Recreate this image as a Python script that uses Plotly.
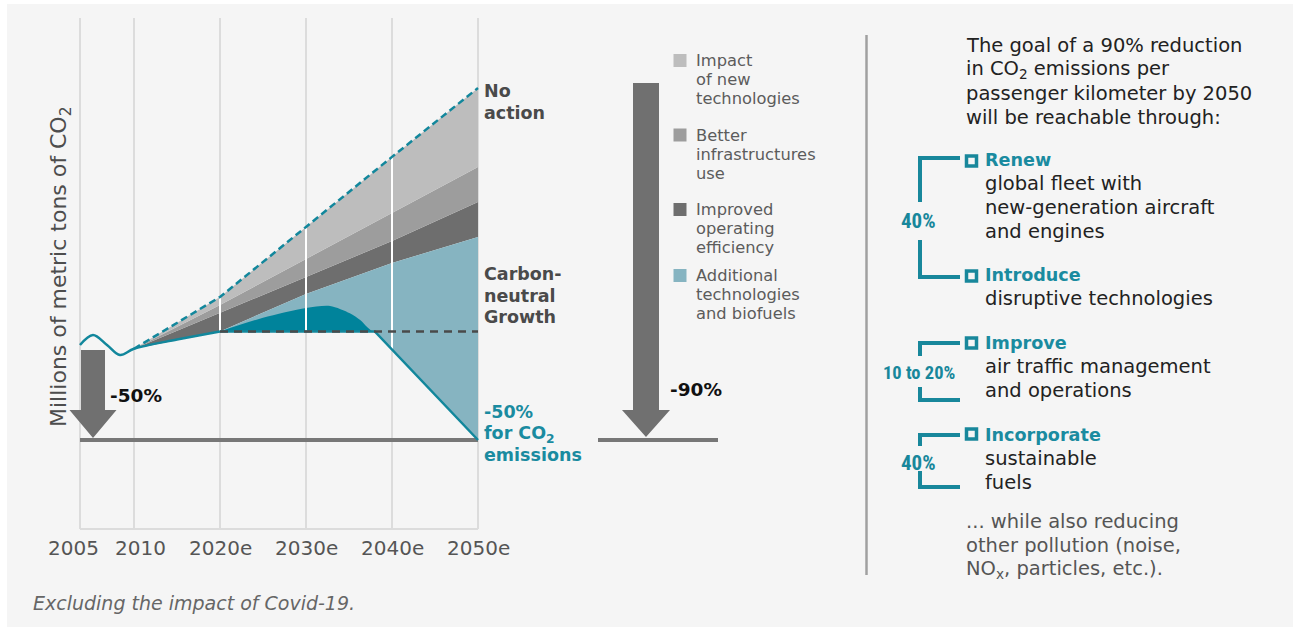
import numpy as np
import plotly.graph_objects as go

W, H = 1293, 627

# ---------------- data (Mt CO2) ----------------
hist_years = [2005, 2006.2, 2007.5, 2008.7, 2010, 2015, 2020]
hist_co2 = [700, 737, 700, 663, 686, 720, 750]

proj_years = [2010, 2020, 2030, 2040, 2050]
no_action = [686, 877, 1135, 1393, 1647]
after_new_tech = [686, 847, 1017, 1186, 1356]
after_infra = [686, 818, 950, 1083, 1227]
after_ops = [686, 750, 888, 1002, 1098]

cng_level = 750
target_2050 = 350
cng_years = [2020, 2038, 2050]
cng_path = [750, 750, 350]

bump_years = [2020, 2025, 2030, 2032.8, 2035.1, 2036.3, 2037.1, 2037.7]
bump_co2 = [750, 800, 836, 844, 817, 792, 766, 750]

tick_years = [2005, 2010, 2020, 2030, 2040, 2050]
tick_labels = ["2005", "2010", "2020e", "2030e", "2040e", "2050e"]
overlay_years = [2020, 2030, 2040]

legend_labels = [["Impact", "of new", "technologies"],
                 ["Better", "infrastructures", "use"],
                 ["Improved", "operating", "efficiency"],
                 ["Additional", "technologies", "and biofuels"]]

label_no_action = ["No", "action"]
label_cng = ["Carbon-", "neutral", "Growth"]
label_target = ["-50%", "for CO<sub>2</sub>", "emissions"]
label_left_arrow = "-50%"
label_right_arrow = "-90%"

intro_lines = ["The goal of a 90% reduction", "in CO<sub>2</sub> emissions per",
               "passenger kilometer by 2050", "will be reachable through:"]
lever_heads = ["Renew", "Introduce", "Improve", "Incorporate"]
lever_bodies = [["global fleet with", "new-generation aircraft", "and engines"],
                ["disruptive technologies"],
                ["air traffic management", "and operations"],
                ["sustainable", "fuels"]]
lever_shares = ["40%", "10 to 20%", "40%"]
outro_lines = ["... while also reducing", "other pollution (noise,",
               "NO<sub>x</sub>, particles, etc.)."]
y_title = "Millions of metric tons of CO<sub>2</sub>"
footnote = "Excluding the impact of Covid-19."

# ---------------- styles ----------------
FONT = "DejaVu Sans"
COND = "Roboto Condensed, Liberation Sans Narrow, DejaVu Sans Condensed, DejaVu Sans"
BG = "#f5f5f5"
GRID = "#dcdcdc"
C_LIGHT = "#bdbdbd"
C_MID = "#9d9d9d"
C_DARK = "#6e6e6e"
C_LBLUE = "#86b4c1"
C_TEAL = "#00839b"
C_TEAL_LINE = "#12879c"
C_TEAL_TXT = "#1a8ba0"
C_ARROW = "#707070"
legend_colors = [C_LIGHT, C_MID, C_DARK, C_LBLUE]

# ---------------- scales ----------------
PX_PER_YEAR = 8.6
PX_2010 = 134
EARLY_STRETCH = 54 / 43          # 2005-2010 drawn wider, as in the original
Y_ZERO_PX = 535
PX_PER_MT = 95 / 350


def xm(year):
    a = np.atleast_1d(np.asarray(year, dtype=float))
    out = np.where(a < 2010, 2010 - (2010 - a) * EARLY_STRETCH, a)
    return out if np.ndim(year) else float(out[0])


def px(x):
    return x / W


def py(y):
    return 1 - y / H


fig = go.Figure()


def line_trace(x, y, **kw):
    fig.add_trace(go.Scatter(x=x, y=y, mode="lines", hoverinfo="skip",
                             showlegend=False, **kw))


# stacked gray bands
line_trace(xm(proj_years), after_ops, line=dict(width=0))
line_trace(xm(proj_years), after_infra, line=dict(width=0), fill="tonexty", fillcolor=C_DARK)
line_trace(xm(proj_years), after_new_tech, line=dict(width=0), fill="tonexty", fillcolor=C_MID)
line_trace(xm(proj_years), no_action, line=dict(width=0), fill="tonexty", fillcolor=C_LIGHT)

# additional technologies & biofuels
blue_years = [y for y in proj_years if y >= 2020]
blue_top = [v for y, v in zip(proj_years, after_ops) if y >= 2020]
line_trace(xm(cng_years), cng_path, line=dict(width=0))
line_trace(xm(blue_years), blue_top, line=dict(width=0), fill="tonexty", fillcolor=C_LBLUE)

# dark teal bump above carbon-neutral level
line_trace(xm([bump_years[0], bump_years[-1]]), [cng_level, cng_level], line=dict(width=0))
line_trace(xm(bump_years), bump_co2, line=dict(width=0, shape="spline", smoothing=0.8),
           fill="tonexty", fillcolor=C_TEAL)

# white gridline segments over the filled area
wx, wy = [], []
for yr in overlay_years:
    top = float(np.interp(yr, proj_years, no_action))
    bot = float(np.interp(yr, cng_years, cng_path))
    wx += [xm(yr), xm(yr), None]
    wy += [top, bot, None]
line_trace(wx, wy, line=dict(width=2, color="white"))

# lines
line_trace(xm(hist_years), hist_co2, line=dict(width=2.5, color=C_TEAL_LINE, shape="spline", smoothing=1.0))
line_trace(xm(cng_years), cng_path, line=dict(width=2.5, color=C_TEAL_LINE))
line_trace(xm([2020, 2050]), [cng_level, cng_level], line=dict(width=2.5, color="#4a4a4a", dash="8px,6px"))
line_trace(xm(proj_years), no_action, line=dict(width=2.5, color=C_TEAL_LINE, dash="7px,4px"))

shapes = []
# panel background
shapes.append(dict(type="rect", xref="paper", yref="paper", x0=px(7), x1=1, y0=0, y1=py(4),
                   fillcolor=BG, line=dict(width=0), layer="below"))
# gridlines and bottom axis line
for yr in tick_years:
    shapes.append(dict(type="line", xref="x", yref="paper", x0=xm(yr), x1=xm(yr),
                       y0=py(529), y1=py(18), line=dict(color=GRID, width=2), layer="below"))
shapes.append(dict(type="line", xref="x", yref="paper", x0=xm(tick_years[0]), x1=xm(tick_years[-1]),
                   y0=py(529), y1=py(529), line=dict(color=GRID, width=2), layer="below"))
# target baselines
shapes.append(dict(type="line", xref="x", yref="y", x0=xm(2005), x1=xm(2050),
                   y0=target_2050, y1=target_2050, line=dict(color="#777777", width=4), layer="below"))
shapes.append(dict(type="line", xref="paper", yref="y", x0=px(598), x1=px(718),
                   y0=target_2050, y1=target_2050, line=dict(color="#777777", width=4), layer="below"))


def poly(points, **kw):
    d = "M " + " L ".join(f"{px(x):.5f},{py(y):.5f}" for x, y in points) + " Z"
    shapes.append(dict(type="path", xref="paper", yref="paper", path=d, **kw))


def arrow(cx, top, head_y, tip_y, shaft_w, head_w):
    poly([(cx - shaft_w / 2, top), (cx + shaft_w / 2, top), (cx + shaft_w / 2, head_y),
          (cx + head_w / 2, head_y), (cx, tip_y), (cx - head_w / 2, head_y),
          (cx - shaft_w / 2, head_y)], fillcolor=C_ARROW, line=dict(width=0))


arrow(93, 350, 410, 438, 24, 47)
arrow(646, 83, 410, 437, 26, 48)

# divider
shapes.append(dict(type="line", xref="paper", yref="paper", x0=px(866.5), x1=px(866.5),
                   y0=py(35), y1=py(575), line=dict(color="#a0a0a0", width=2.5)))

# legend squares
legend_y = [60.5, 135, 209.5, 275.5]
for c, yc in zip(legend_colors, legend_y):
    shapes.append(dict(type="rect", xref="paper", yref="paper", x0=px(673.5), x1=px(686.5),
                       y0=py(yc + 6.5), y1=py(yc - 6.5), fillcolor=c, line=dict(width=0)))

# brackets
C_BR = "#18879b"
brackets = [(158, 202, 240, 277), (343, 356, 387, 400), (435, 446, 471, 487)]
for top, g1, g2, bot in brackets:
    d = (f"M {px(960)},{py(top)} L {px(920)},{py(top)} L {px(920)},{py(g1)} "
         f"M {px(920)},{py(g2)} L {px(920)},{py(bot)} L {px(960)},{py(bot)}")
    shapes.append(dict(type="path", xref="paper", yref="paper", path=d,
                       line=dict(color=C_BR, width=4)))
# lever markers (hollow squares)
head_y = [160, 275, 343, 435]
for yc in [161, 276, 343, 434]:
    shapes.append(dict(type="rect", xref="paper", yref="paper", x0=px(966.5), x1=px(976.5),
                       y0=py(yc + 5), y1=py(yc - 5), fillcolor=BG, line=dict(color=C_BR, width=3.5)))

annotations = []


def txt(s, x, y, size, color, weight=400, style="normal", family=FONT, xanchor="left", **kw):
    annotations.append(dict(text=s, x=px(x), y=py(y), xref="paper", yref="paper",
                            xanchor=xanchor, yanchor="middle", showarrow=False,
                            font=dict(family=family, size=size, color=color, weight=weight, style=style),
                            **kw))


# tick labels (positioned on the data axis)
tick_shift = {2005: -7, 2010: 6}
for yr, lab in zip(tick_years, tick_labels):
    annotations.append(dict(text=lab, x=xm(yr), y=py(548), xref="x", yref="paper",
                            xanchor="center", yanchor="middle", showarrow=False,
                            xshift=tick_shift.get(yr, 0),
                            font=dict(family=FONT, size=20, color="#555555")))

# y title
txt(y_title, 60, 267, 22, "#4d4d4d", xanchor="center", textangle=-90)

# chart labels
for s, y in zip(label_no_action, [90.5, 112.5]):
    txt(s, 482, y, 17.5, "#4a4a4a", weight=700)
for s, y in zip(label_cng, [274, 296, 317]):
    txt(s, 482, y, 17.5, "#4a4a4a", weight=700)
for s, y in zip(label_target, [411.5, 434, 455]):
    txt(s, 482, y, 17.5, C_TEAL_TXT, weight=700)
txt(label_left_arrow, 108, 395, 18.5, "#111111", weight=700)
txt(label_right_arrow, 668, 389, 18.5, "#111111", weight=700)

# legend text
for lines, y0 in zip(legend_labels, legend_y):
    for i, s in enumerate(lines):
        txt(s, 694, y0 + 19 * i, 16.3, "#5c5c5c")

# right panel
for i, s in enumerate(intro_lines):
    txt(s, 964, 45 + 24.1 * i, 19.5, "#222222")
for h, body, hy in zip(lever_heads, lever_bodies, head_y):
    txt(h, 983, hy, 17.6, C_TEAL_TXT, weight=700)
    for i, s in enumerate(body):
        txt(s, 983, hy + 23.8 * (i + 1), 19.5, "#222222")
for s, y, size in zip(lever_shares, [221, 373, 462.5], [21, 18.5, 21]):
    txt(s, 919, y, size, C_BR, weight=700, family=COND, xanchor="center")
for i, s in enumerate(outro_lines):
    txt(s, 964, 521.5 + 24 * i, 19.5, "#555555")

# footnote
txt(footnote, 31, 603, 19, "#666666", style="italic")

fig.update_layout(
    width=W, height=H, margin=dict(l=0, r=0, t=0, b=0),
    paper_bgcolor="white", plot_bgcolor="rgba(0,0,0,0)",
    xaxis=dict(range=[2010 - PX_2010 / PX_PER_YEAR, 2010 + (W - PX_2010) / PX_PER_YEAR],
               visible=False, fixedrange=True),
    yaxis=dict(range=[-(H - Y_ZERO_PX) / PX_PER_MT, Y_ZERO_PX / PX_PER_MT],
               visible=False, fixedrange=True),
    shapes=shapes, annotations=annotations, showlegend=False,
    font=dict(family=FONT),
)

fig.write_html("out.html", config={"displayModeBar": False},
               post_script="document.body.style.margin='0';document.body.style.overflow='hidden';")
